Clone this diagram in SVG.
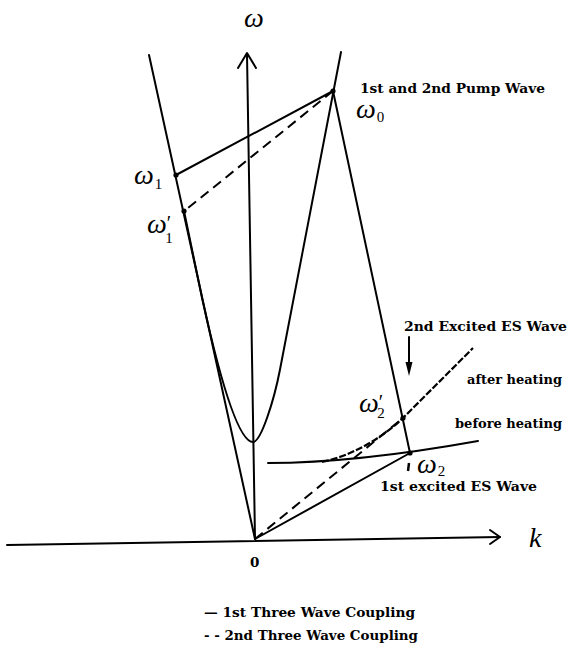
<svg xmlns="http://www.w3.org/2000/svg" width="569" height="646" viewBox="0 0 569 646">
<defs>
<style>
.ln{fill:none;stroke:#000;stroke-width:2;stroke-linecap:round;stroke-linejoin:round}
.dash{fill:none;stroke:#000;stroke-width:2;stroke-dasharray:10 6}
.fdash{fill:none;stroke:#000;stroke-width:2.2;stroke-dasharray:7 2}
.dot{fill:#000}
.lbl{font-family:"DejaVu Serif","Liberation Serif",serif;font-weight:bold;font-size:13.5px;fill:#000}
.m{font-family:"Liberation Serif","DejaVu Serif",serif;font-style:italic;font-size:28px;fill:#000}
.sub{font-family:"Liberation Serif","DejaVu Serif",serif;font-style:normal;font-size:15px}
.pr{font-family:"Liberation Serif","DejaVu Serif",serif;font-style:normal;font-size:20px}
</style>
</defs>
<rect width="569" height="646" fill="#fff"/>
<g id="connectors">
<line class="ln" x1="7" y1="545" x2="500" y2="537"/>
<polyline class="ln" points="490,530 500,537 490,544"/>
<line class="ln" x1="255" y1="539" x2="247" y2="54"/>
<polyline class="ln" points="238,68 247,53 256,68"/>
<line class="ln" x1="149" y1="55" x2="255" y2="539"/>
<path class="ln" d="M184,211 L202.5,300 C222.4,390 240,442 253,442 C261,442 274.1,400 279.9,370 L341,52"/>
<line class="ln" x1="333" y1="91" x2="176" y2="175"/>
<line class="dash" x1="333" y1="91" x2="188" y2="208"/>
<line class="ln" x1="333" y1="91" x2="410" y2="453"/>
<line class="ln" x1="255" y1="539" x2="410" y2="453"/>
<line class="dash" x1="255" y1="539" x2="403" y2="418"/>
<path class="ln" d="M268,463 C330,463 400,455 478,441"/>
<path class="fdash" d="M322,462 C350,456 380,440 403,418 L473,348"/>
<line class="ln" x1="409" y1="337" x2="409" y2="364"/>
<path d="M405.5,362 L409,376 L412.5,362 Z" fill="#000"/>
<line x1="409" y1="463" x2="408" y2="471" stroke="#000" stroke-width="2.5"/>
</g>
<g id="points">
<circle class="dot" cx="333" cy="91" r="2.6"/>
<circle class="dot" cx="176" cy="175" r="2.6"/>
<circle class="dot" cx="184" cy="211" r="2.6"/>
<circle class="dot" cx="403" cy="418" r="2.6"/>
<circle class="dot" cx="410" cy="453" r="2.6"/>
</g>
<g id="axis-labels">
<text class="m" x="244" y="27">ω</text>
<text class="m" x="529" y="547" font-size="27">k</text>
<text class="lbl" x="250" y="567" font-size="18">0</text>
</g>
<g id="omega0">
<text class="m" x="356" y="118">ω<tspan class="sub" dx="1" dy="4">0</tspan></text>
<text class="lbl" x="360" y="93" textLength="185" lengthAdjust="spacingAndGlyphs">1st and 2nd Pump Wave</text>
</g>
<g id="omega1">
<text class="m" x="134" y="184">ω<tspan class="sub" dx="1" dy="5">1</tspan></text>
</g>
<g id="omega1p">
<text class="m" x="147" y="233">ω<tspan class="pr" dx="0" dy="-3">′</tspan><tspan class="sub" dx="-6" dy="13">1</tspan></text>
</g>
<g id="omega2p">
<text class="m" x="359" y="412">ω<tspan class="pr" dx="0" dy="-3">′</tspan><tspan class="sub" dx="-6" dy="9">2</tspan></text>
</g>
<g id="omega2">
<text class="m" x="417" y="473">ω<tspan class="sub" dx="1" dy="3">2</tspan></text>
<text class="lbl" x="380" y="491" textLength="157" lengthAdjust="spacingAndGlyphs">1st excited ES Wave</text>
</g>
<g id="es-labels">
<text class="lbl" x="404" y="331" textLength="163" lengthAdjust="spacingAndGlyphs">2nd Excited ES Wave</text>
<text class="lbl" x="467" y="384" textLength="95" lengthAdjust="spacingAndGlyphs">after heating</text>
<text class="lbl" x="455" y="428" textLength="107" lengthAdjust="spacingAndGlyphs">before heating</text>
</g>
<g id="legend">
<text class="lbl" x="204" y="617" textLength="211" lengthAdjust="spacingAndGlyphs">— 1st Three Wave Coupling</text>
<text class="lbl" x="204" y="640" textLength="214" lengthAdjust="spacingAndGlyphs">- - 2nd Three Wave Coupling</text>
</g>
</svg>
